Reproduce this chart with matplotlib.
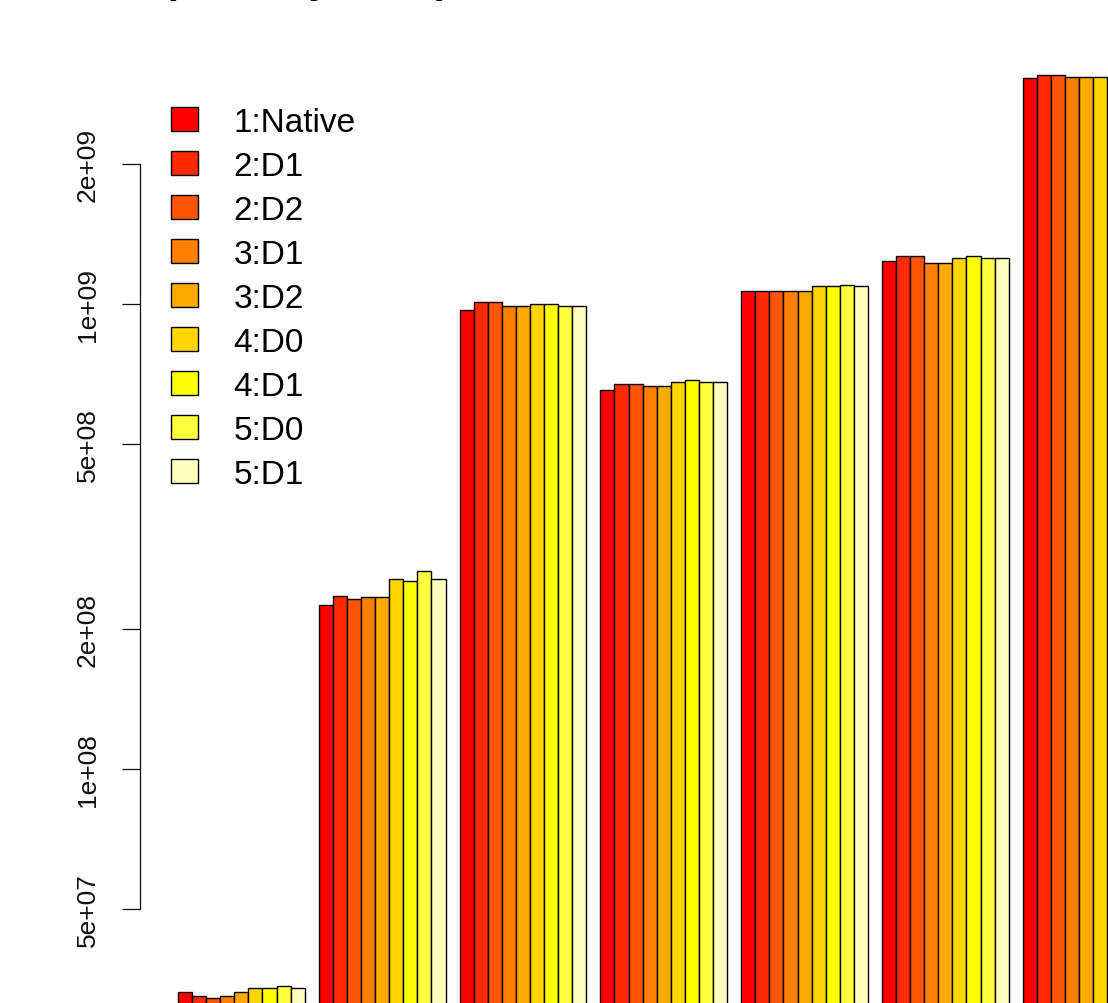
import numpy as np
import matplotlib
matplotlib.use("Agg")
import matplotlib.pyplot as plt
from matplotlib.patches import Patch
from matplotlib.ticker import NullLocator

plt.rcParams['font.family'] = ['Liberation Sans', 'DejaVu Sans']

# Configurations (one bar per configuration inside each group)
series = ["1:Native", "2:D1", "2:D2", "3:D1", "3:D2", "4:D0", "4:D1", "5:D0", "5:D1"]
colors = ["#FF0000", "#FF2A00", "#FF5500", "#FF8000", "#FFAA00",
          "#FFD500", "#FFFF00", "#FFFF40", "#FFFFBF"]

# Measured values per group (log scale)
group1 = [3.31e7, 3.25e7, 3.22e7, 3.25e7, 3.31e7, 3.38e7, 3.38e7, 3.42e7, 3.38e7]
group2 = [2.25e8, 2.36e8, 2.32e8, 2.34e8, 2.34e8, 2.56e8, 2.54e8, 2.67e8, 2.56e8]
group3 = [9.72e8, 1.011e9, 1.011e9, 9.89e8, 9.88e8, 1.0e9, 1.0e9, 9.89e8, 9.89e8]
group4 = [6.54e8, 6.73e8, 6.73e8, 6.65e8, 6.65e8, 6.81e8, 6.88e8, 6.81e8, 6.81e8]
group5 = [1.065e9, 1.065e9, 1.065e9, 1.065e9, 1.065e9, 1.092e9, 1.092e9, 1.100e9, 1.092e9]
group6 = [1.236e9, 1.266e9, 1.266e9, 1.225e9, 1.225e9, 1.254e9, 1.266e9, 1.254e9, 1.254e9]
group7 = [3.06e9, 3.11e9, 3.11e9, 3.07e9, 3.07e9, 3.07e9]
groups = [group1, group2, group3, group4, group5, group6, group7]

y_ticks = [5e7, 1e8, 2e8, 5e8, 1e9, 2e9]
y_tick_labels = ["5e+07", "1e+08", "2e+08", "5e+08", "1e+09", "2e+09"]

W, H = 1108, 1004
fig = plt.figure(figsize=(W / 100, H / 100), dpi=100)

left_px, top_px = 140, 30
ax = fig.add_axes([left_px / W, 0, 1 - left_px / W, 1 - top_px / H])
ax.set_yscale('log')

base = 1e6
for g, vals in enumerate(groups):
    vals = np.asarray(vals)
    x = 1 + 10 * g + np.arange(len(vals)) + 0.5
    ax.bar(x, vals - base, bottom=base, width=1.0,
           color=colors[:len(vals)], edgecolor='black', linewidth=1.0)

ax.set_xlim(-1.70, 67.05)
ax.set_ylim(10 ** 7.4968, 10 ** 9.5914)

ax.set_yticks(y_ticks)
ax.set_yticklabels(y_tick_labels)
ax.yaxis.set_minor_locator(NullLocator())
ax.set_xticks([])
ax.tick_params(axis='y', length=13, width=0.9, labelsize=19, pad=16,
               labelrotation=90, colors='#111111', labelcolor='#111111')
for lab in ax.get_yticklabels():
    lab.set_va('center')
    lab.set_ha('right')

for s in ('top', 'right', 'bottom'):
    ax.spines[s].set_visible(False)
ax.spines['left'].set_bounds(5e7, 2e9)
ax.spines['left'].set_linewidth(0.9)
ax.spines['left'].set_color('#111111')

handles = [Patch(facecolor=c, edgecolor='black', linewidth=1.0) for c in colors]
ax.legend(handles, series, loc='upper left',
          bbox_to_anchor=(171 / W, 1 - 108 / H), bbox_transform=fig.transFigure,
          frameon=False, fontsize=24, handlelength=0.82, handleheight=0.72,
          handletextpad=1.05, labelspacing=0.39, borderpad=0, borderaxespad=0)

fig.text(163 / W, 1 + 6.5 / H, "(Memory Peak)", fontsize=29, fontweight='bold',
         ha='left', va='baseline')

fig.savefig("out.png", dpi=100)
